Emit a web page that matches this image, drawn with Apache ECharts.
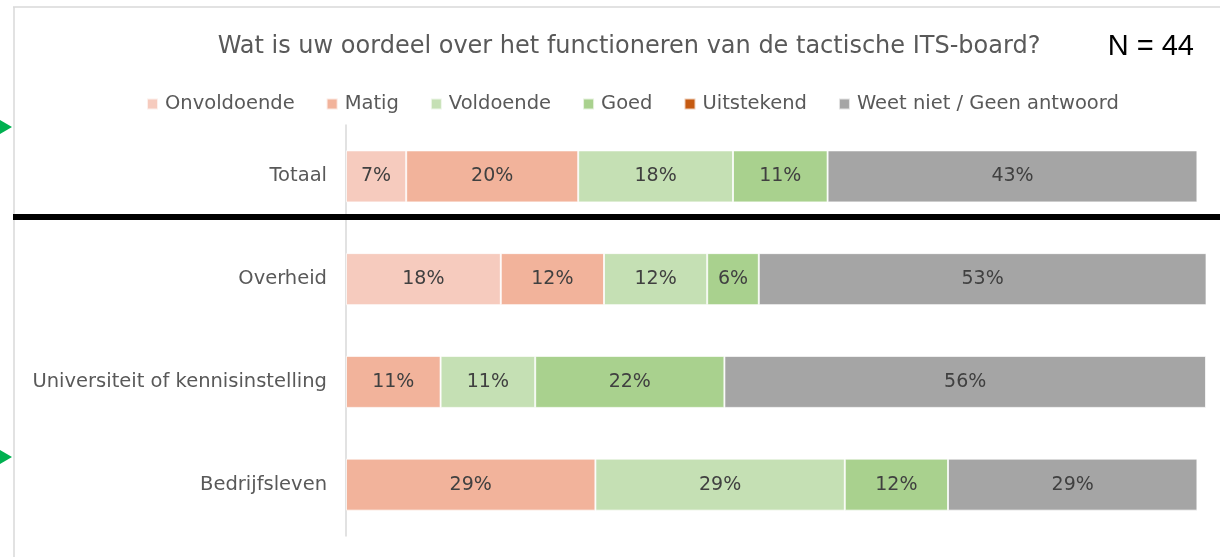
<!DOCTYPE html>
<html>
<head>
<meta charset="utf-8">
<script src="https://cdn.jsdelivr.net/npm/echarts@6/dist/echarts.min.js"></script>
<style>
  html, body { margin: 0; padding: 0; background: #fff; }
  #chart { width: 1220px; height: 557px; }
</style>
</head>
<body>
<div id="chart"></div>
<script>
// Respondent groups (top to bottom)
const categories = ['Totaal', 'Overheid', 'Universiteit of kennisinstelling', 'Bedrijfsleven'];

// Answer shares in percent per group (null = no answers)
const onvoldoende = [7, 18, null, null];
const matig       = [20, 12, 11, 29];
const voldoende   = [18, 12, 11, 29];
const goed        = [11, 6, 22, 12];
const uitstekend  = [null, null, null, null];
const weetNiet    = [43, 53, 56, 29];

const seriesDefs = [
  { name: 'Onvoldoende', data: onvoldoende, color: '#F6CBBE' },
  { name: 'Matig', data: matig, color: '#F2B39B' },
  { name: 'Voldoende', data: voldoende, color: '#C5E0B4' },
  { name: 'Goed', data: goed, color: '#A9D18E' },
  { name: 'Uitstekend', data: uitstekend, color: '#C55A11' },
  { name: 'Weet niet / Geen antwoord', data: weetNiet, color: '#A5A5A5' }
];

const FONT = 'DejaVu Sans';
const chart = echarts.init(document.getElementById('chart'), null, { renderer: 'canvas' });

chart.setOption({
  animation: false,
  textStyle: { fontFamily: FONT },
  title: [
    {
      text: 'Wat is uw oordeel over het functioneren van de tactische ITS-board?',
      left: 624, top: 30, textAlign: 'center',
      textStyle: { fontFamily: FONT, fontSize: 24, fontWeight: 'normal', color: '#595959' }
    },
    {
      text: 'N = 44',
      right: 21, top: 27,
      textStyle: { fontFamily: 'Liberation Sans', fontSize: 29, fontWeight: 'normal', color: '#000' }
    }
  ],
  legend: {
    top: 89, left: 141,
    itemWidth: 11, itemHeight: 11, itemGap: 31,
    icon: 'rect',
    textStyle: { fontFamily: FONT, fontSize: 19.5, color: '#595959', padding: [0, 0, 0, 2] },
    data: seriesDefs.map(s => s.name)
  },
  grid: { left: 346, right: 14, top: 125, bottom: 21, containLabel: false },
  xAxis: {
    type: 'value', min: 0, max: 100,
    show: false
  },
  yAxis: {
    type: 'category', inverse: true, data: categories,
    axisLine: { show: true, lineStyle: { color: '#D9D9D9', width: 1.5 } },
    axisTick: { show: false },
    axisLabel: { fontFamily: FONT, fontSize: 19.5, color: '#595959', margin: 19 }
  },
  series: seriesDefs.map(s => ({
    name: s.name, type: 'bar', stack: 'total',
    data: s.data,
    barWidth: 52,
    itemStyle: { color: s.color, borderColor: 'rgba(255,255,255,0.7)', borderWidth: 1 },
    label: {
      show: true, position: 'inside',
      formatter: p => (p.value == null ? '' : p.value + '%'),
      fontFamily: FONT, fontSize: 19, color: '#404040'
    }
  })),
  graphic: [
    // chart frame
    { type: 'line', shape: { x1: 13, y1: 7, x2: 1220, y2: 7 }, style: { stroke: '#D9D9D9', lineWidth: 1.5 } },
    { type: 'line', shape: { x1: 14, y1: 7, x2: 14, y2: 557 }, style: { stroke: '#D9D9D9', lineWidth: 1.5 } },
    // separator between the total and the groups
    { type: 'rect', shape: { x: 13, y: 214, width: 1207, height: 6 }, style: { fill: '#000' }, z: 10 },
    // green markers on the left edge
    { type: 'polygon', shape: { points: [[0, 120], [12, 127], [0, 134]] }, style: { fill: '#00B050' } },
    { type: 'polygon', shape: { points: [[0, 450], [12, 457], [0, 464]] }, style: { fill: '#00B050' } }
  ]
});
</script>
</body>
</html>
